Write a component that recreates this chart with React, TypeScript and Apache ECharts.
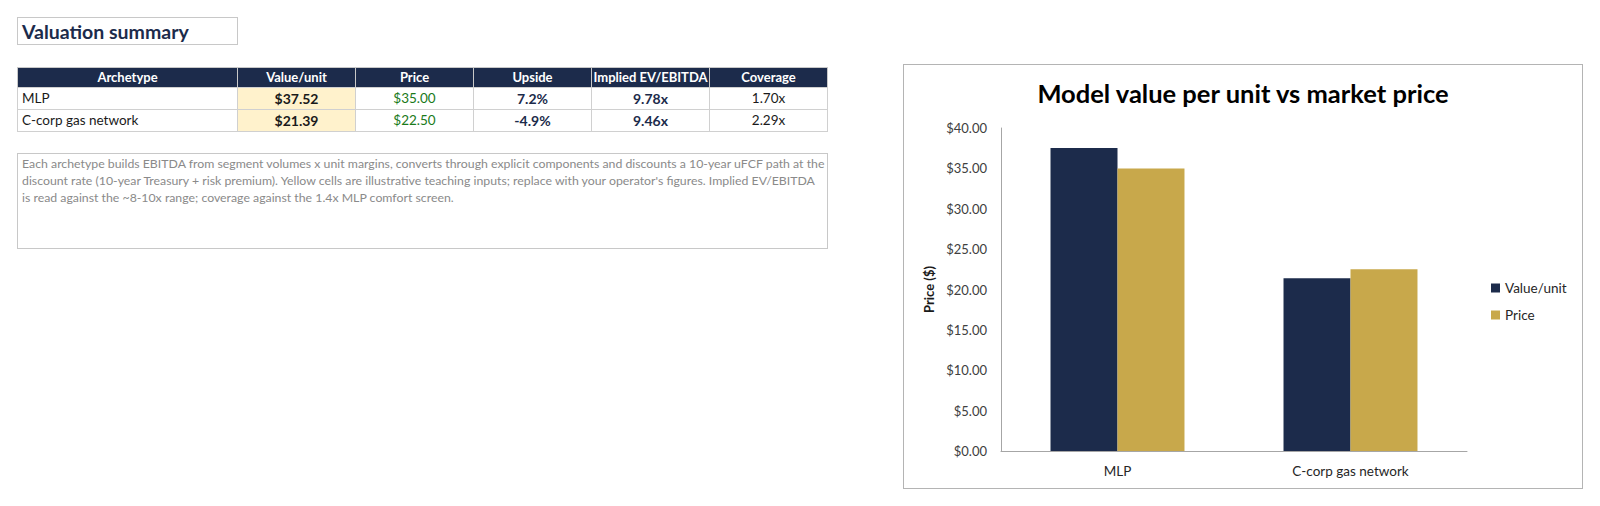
import React, { useEffect, useRef } from "react";
import * as echarts from "echarts";

const categories = ["MLP", "C-corp gas network"];
const valuePerUnit = [37.52, 21.39];
const marketPrice = [35.0, 22.5];
const upside = ["7.2%", "-4.9%"];
const impliedEvEbitda = ["9.78x", "9.46x"];
const coverage = ["1.70x", "2.29x"];
const tableHeaders = ["Archetype", "Value/unit", "Price", "Upside", "Implied EV/EBITDA", "Coverage"];
const seriesNames = ["Value/unit", "Price"];
const noteLines = [
  "Each archetype builds EBITDA from segment volumes x unit margins, converts through explicit components and discounts a 10-year uFCF path at the",
  "discount rate (10-year Treasury + risk premium). Yellow cells are illustrative teaching inputs; replace with your operator's figures. Implied EV/EBITDA",
  "is read against the ~8-10x range; coverage against the 1.4x MLP comfort screen.",
];

const NAVY = "#1c2b4b";
const GOLD = "#c8a84b";
const FONT = "Lato, 'Open Sans', sans-serif";

const colX = [17, 237, 355, 473, 591, 709];
const colW = [220, 118, 118, 118, 118, 118];

function Chart() {
  const ref = useRef<HTMLDivElement>(null);
  useEffect(() => {
    if (!ref.current) return;
    const chart = echarts.init(ref.current, undefined, { renderer: "svg" });
    chart.setOption({
      animation: false,
      textStyle: { fontFamily: FONT },
      title: {
        text: "Model value per unit vs market price",
        left: "center",
        top: 11,
        textStyle: { fontFamily: FONT, fontSize: 25.5, fontWeight: "bold", color: "#000" },
      },
      legend: {
        orient: "vertical",
        left: 588,
        top: 217,
        padding: 0,
        itemWidth: 9,
        itemHeight: 9,
        itemGap: 13,
        icon: "rect",
        data: seriesNames,
        textStyle: { fontFamily: FONT, fontSize: 13.5, color: "#262626" },
      },
      grid: { left: 98, right: 116, top: 64, bottom: 38, containLabel: false },
      xAxis: {
        type: "category",
        data: categories,
        axisLine: { lineStyle: { color: "#a6a6a6", width: 1 } },
        axisTick: { show: false },
        axisLabel: { fontFamily: FONT, fontSize: 13.5, color: "#262626", margin: 13 },
      },
      yAxis: {
        type: "value",
        min: 0,
        max: 40,
        interval: 5,
        name: "Price ($)",
        nameLocation: "middle",
        nameGap: 64,
        nameTextStyle: { fontFamily: FONT, fontSize: 13, fontWeight: "bold", color: "#1a1a1a" },
        axisLine: { show: true, lineStyle: { color: "#a6a6a6", width: 1 } },
        axisTick: { show: false },
        splitLine: { show: false },
        axisLabel: {
          fontFamily: FONT,
          fontSize: 13,
          color: "#404040",
          margin: 14,
          formatter: (v: number) => "$" + v.toFixed(2),
        },
      },
      series: [
        {
          name: seriesNames[0],
          type: "bar",
          data: valuePerUnit,
          itemStyle: { color: NAVY },
          barGap: "0%",
          barCategoryGap: "42.5%",
        },
        {
          name: seriesNames[1],
          type: "bar",
          data: marketPrice,
          itemStyle: { color: GOLD },
          barGap: "0%",
          barCategoryGap: "42.5%",
        },
      ],
    });
    return () => chart.dispose();
  }, []);
  return <div ref={ref} style={{ position: "absolute", left: 903, top: 64, width: 680, height: 425 }} />;
}

export default function App() {
  const rows = categories.map((c, i) => [
    c,
    "$" + valuePerUnit[i].toFixed(2),
    "$" + marketPrice[i].toFixed(2),
    upside[i],
    impliedEvEbitda[i],
    coverage[i],
  ]);
  const cellStyle = (ci: number, ri: number): React.CSSProperties => {
    const base: React.CSSProperties = {
      position: "absolute",
      left: colX[ci],
      width: colW[ci] + 1,
      boxSizing: "border-box",
      border: "1px solid #d0d0d0",
      fontSize: 13.5,
      whiteSpace: "nowrap",
      overflow: "hidden",
    };
    if (ri < 0) {
      return {
        ...base,
        top: 67,
        height: 21,
        lineHeight: "19px",
        background: NAVY,
        color: "#fff",
        fontWeight: "bold",
        textAlign: "center",
        borderColor: "#c8c8c8",
        fontSize: 13,
      };
    }
    const top = 87 + ri * 22;
    const s: React.CSSProperties = { ...base, top, height: 23, lineHeight: "21px", textAlign: ci === 0 ? "left" : "center", color: "#1a1a1a" };
    if (ci === 0) s.paddingLeft = 4;
    if (ci === 1) {
      s.background = "#fff2cc";
      s.fontWeight = "bold";
      s.fontSize = 14;
    }
    if (ci === 2) s.color = "#1a7a1a";
    if (ci === 3 || ci === 4) {
      s.fontWeight = "bold";
      s.color = NAVY;
      s.fontSize = 14;
    }
    return s;
  };
  return (
    <div style={{ position: "absolute", left: 0, top: 0, width: 1600, height: 506, background: "#fff", fontFamily: FONT, overflow: "hidden" }}>
      <div
        style={{
          position: "absolute",
          left: 17,
          top: 17,
          width: 221,
          height: 28,
          boxSizing: "border-box",
          border: "1px solid #c8c8c8",
          paddingLeft: 4,
          lineHeight: "27px",
          fontSize: 19.5,
          fontWeight: "bold",
          color: NAVY,
        }}
      >
        Valuation summary
      </div>
      {tableHeaders.map((h, ci) => (
        <div key={"h" + ci} style={cellStyle(ci, -1)}>
          {h}
        </div>
      ))}
      {rows.map((r, ri) =>
        r.map((v, ci) => (
          <div key={ri + "-" + ci} style={cellStyle(ci, ri)}>
            {v}
          </div>
        ))
      )}
      <div
        style={{
          position: "absolute",
          left: 17,
          top: 153,
          width: 811,
          height: 96,
          boxSizing: "border-box",
          border: "1px solid #c8c8c8",
          paddingLeft: 4,
          paddingTop: 1,
          fontSize: 12.3,
          lineHeight: "17px",
          color: "#8a8a8a",
          whiteSpace: "nowrap",
          overflow: "hidden",
        }}
      >
        {noteLines.map((l, i) => (
          <div key={i}>{l}</div>
        ))}
      </div>
      <Chart />
      <div
        style={{
          position: "absolute",
          left: 903,
          top: 64,
          width: 680,
          height: 425,
          boxSizing: "border-box",
          border: "1.5px solid #b4b4b4",
          pointerEvents: "none",
        }}
      />
    </div>
  );
}
